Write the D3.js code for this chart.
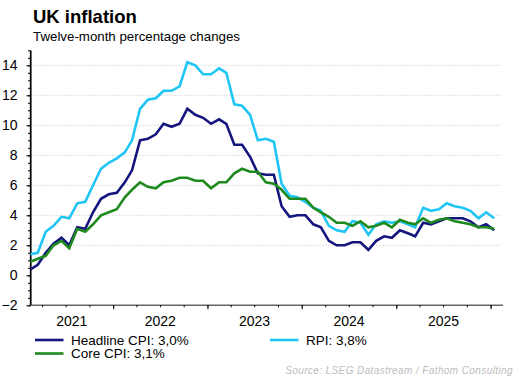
<!DOCTYPE html>
<html>
<head>
<meta charset="utf-8">
<script src="https://cdn.jsdelivr.net/npm/d3@7"></script>
<style>
  body { margin: 0; background: #fff; }
  text { font-family: "Liberation Sans", Arial, sans-serif; }
</style>
</head>
<body>
<div id="chart"></div>
<script>
// Monthly figures, Feb 2021 to Jan 2026
const firstMonth = new Date(2021, 1, 15);
const headline = [
  0.4, 0.7, 1.5, 2.1, 2.5, 2.0, 3.2, 3.1, 4.2, 5.1, 5.4,
  5.5, 6.2, 7.0, 9.0, 9.1, 9.4, 10.1, 9.9, 10.1, 11.1, 10.7, 10.5,
  10.1, 10.4, 10.1, 8.7, 8.7, 7.9, 6.8, 6.7, 6.7, 4.6, 3.9, 4.0,
  4.0, 3.4, 3.2, 2.3, 2.0, 2.0, 2.2, 2.2, 1.7, 2.3, 2.6, 2.5,
  3.0, 2.8, 2.6, 3.5, 3.4, 3.6, 3.8, 3.8, 3.8, 3.6, 3.2, 3.4,
  3.0
];
const rpi = [
  1.4, 1.5, 2.9, 3.3, 3.9, 3.8, 4.8, 4.9, 6.0, 7.1, 7.5,
  7.8, 8.2, 9.0, 11.1, 11.7, 11.8, 12.3, 12.3, 12.6, 14.2, 14.0, 13.4,
  13.4, 13.8, 13.5, 11.4, 11.3, 10.7, 9.0, 9.1, 8.9, 6.1, 5.3, 5.2,
  4.9, 4.5, 4.3, 3.3, 3.0, 2.9, 3.6, 3.5, 2.7, 3.4, 3.6, 3.5,
  3.6, 3.4, 3.2, 4.5, 4.3, 4.4, 4.8, 4.6, 4.5, 4.3, 3.8, 4.2,
  3.8
];
const core = [
  0.9, 1.1, 1.3, 2.0, 2.3, 1.8, 3.1, 2.9, 3.4, 4.0, 4.2,
  4.4, 5.2, 5.7, 6.2, 5.9, 5.8, 6.2, 6.3, 6.5, 6.5, 6.3, 6.3,
  5.8, 6.2, 6.2, 6.8, 7.1, 6.9, 6.9, 6.2, 6.1, 5.7, 5.1, 5.1,
  5.1, 4.5, 4.2, 3.9, 3.5, 3.5, 3.3, 3.6, 3.2, 3.3, 3.5, 3.2,
  3.7, 3.5, 3.4, 3.8, 3.5, 3.7, 3.8, 3.6, 3.5, 3.4, 3.2, 3.2,
  3.1
];
const seriesNames = ["Headline CPI: 3,0%", "RPI: 3,8%", "Core CPI: 3,1%"];
const seriesColors = ["#15157f", "#1fc6f5", "#1e8a1e"];
const yTicks = [-2, 0, 2, 4, 6, 8, 10, 12, 14];
const years = [2021, 2022, 2023, 2024, 2025];

const width = 520, height = 378;
const margin = { top: 50.3, right: 17, bottom: 72.7, left: 30.5 };

const svg = d3.select("#chart").append("svg")
  .attr("width", width)
  .attr("height", height);

const dates = headline.map((d, i) => d3.timeMonth.offset(firstMonth, i));

const x = d3.scaleTime()
  .domain([new Date(2021, 1, 15), new Date(2026, 1, 18)])
  .range([margin.left, width - margin.right]);
const y = d3.scaleLinear()
  .domain([-2, 15])
  .range([height - margin.bottom, margin.top]);

// titles
svg.append("text").attr("x", 33).attr("y", 22.5)
  .style("font-size", "18.5px").style("font-weight", "bold")
  .text("UK inflation");
svg.append("text").attr("x", 33).attr("y", 40.5)
  .style("font-size", "13.3px")
  .text("Twelve-month percentage changes");

// gridlines
svg.append("g").selectAll("line")
  .data(yTicks.filter(d => d > 0))
  .join("line")
  .attr("x1", margin.left + 1).attr("x2", width - margin.right - 1)
  .attr("y1", d => y(d)).attr("y2", d => y(d))
  .attr("stroke", "#c4c4c4").attr("stroke-dasharray", "1,2");

// y axis: minor ticks every 0.5
svg.append("g")
  .attr("transform", `translate(${margin.left},0)`)
  .call(d3.axisLeft(y).tickValues(d3.range(-2, 15.01, 0.5)).tickSize(2.5).tickFormat(""))
  .call(g => g.select(".domain").remove());
svg.append("g")
  .attr("transform", `translate(${margin.left},0)`)
  .call(d3.axisLeft(y).tickValues(yTicks).tickSize(4).tickSizeOuter(0).tickPadding(9))
  .call(g => g.selectAll("text").style("font-size", "14px").attr("fill", "#000")
    .style("font-family", '"Liberation Sans", Arial, sans-serif'));

// x axis
const xAxisG = svg.append("g")
  .attr("transform", `translate(0,${y(-2)})`);
xAxisG.append("line")
  .attr("x1", margin.left).attr("x2", width - margin.right)
  .attr("stroke", "#666").attr("stroke-width", 1.6);
xAxisG.append("g")
  .call(d3.axisBottom(x).ticks(d3.timeMonth.every(3)).tickSize(2).tickSizeOuter(0).tickFormat(""))
  .call(g => g.select(".domain").remove());
xAxisG.append("g")
  .call(d3.axisBottom(x).ticks(d3.timeYear.every(1)).tickSize(4).tickSizeOuter(0).tickFormat(""))
  .call(g => g.select(".domain").remove());

const [d0, d1] = x.domain();
xAxisG.selectAll(".year")
  .data(years)
  .join("text")
  .attr("class", "year")
  .attr("x", yr => {
    const a = x(d3.max([new Date(yr, 0, 1), d0]));
    const b = x(d3.min([new Date(yr + 1, 0, 1), d1]));
    return (a + b) / 2;
  })
  .attr("y", 21)
  .attr("text-anchor", "middle")
  .attr("fill", "#000")
  .style("font-size", "14px")
  .text(d => d);

// left axis line drawn over gridlines
svg.append("line")
  .attr("x1", margin.left).attr("x2", margin.left)
  .attr("y1", y(15)).attr("y2", y(-2))
  .attr("stroke", "#000").attr("stroke-width", 1.3);

// lines
const line = d3.line()
  .x((d, i) => x(dates[i]))
  .y(d => y(d));
[headline, rpi, core].forEach((s, k) => {
  svg.append("path")
    .datum(s)
    .attr("fill", "none")
    .attr("stroke", seriesColors[k])
    .attr("stroke-width", 2.6)
    .attr("d", line);
});

// legend
const legendPos = [[35, 340], [270, 340], [35, 353.5]];
const legend = svg.append("g");
seriesNames.forEach((name, k) => {
  const [lx, ly] = legendPos[k];
  legend.append("line")
    .attr("x1", lx).attr("x2", lx + 28.5)
    .attr("y1", ly).attr("y2", ly)
    .attr("stroke", seriesColors[k]).attr("stroke-width", 2.6);
  legend.append("text")
    .attr("x", lx + 36).attr("y", ly + 4.7)
    .style("font-size", "13.5px")
    .text(name);
});

// source
svg.append("text")
  .attr("x", 513).attr("y", 374)
  .attr("text-anchor", "end")
  .style("font-size", "10px").style("font-style", "italic")
  .style("letter-spacing", "0.4px")
  .attr("fill", "#bdbdbd")
  .text("Source: LSEG Datastream / Fathom Consulting");
</script>
</body>
</html>
